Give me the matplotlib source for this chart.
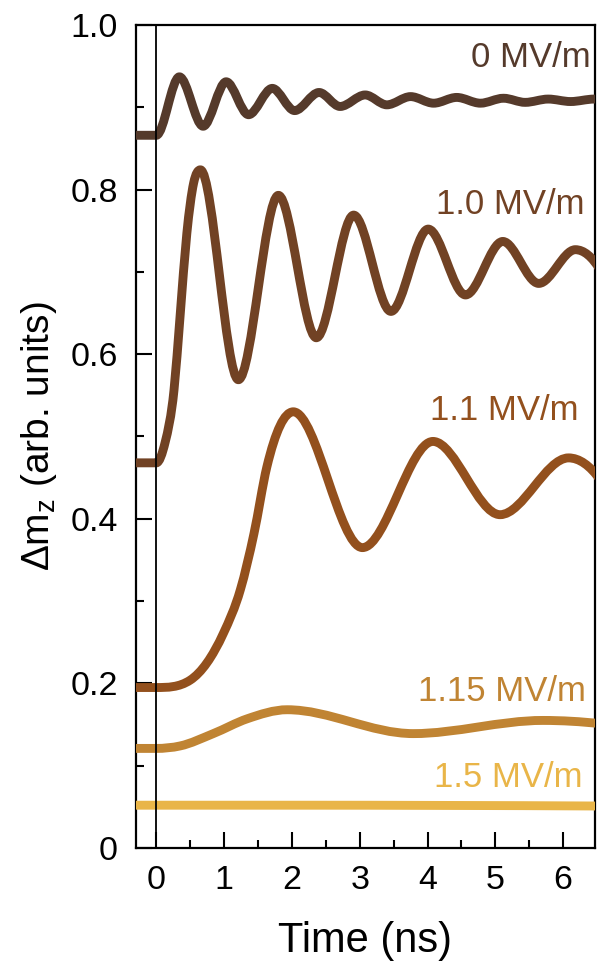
import numpy as np
import matplotlib
matplotlib.use("Agg")
import matplotlib.pyplot as plt
from matplotlib.path import Path
from matplotlib.patches import PathPatch
from matplotlib.ticker import MultipleLocator, FixedLocator, FixedFormatter

plt.rcParams['font.family'] = ['Liberation Sans', 'DejaVu Sans']
plt.rcParams['mathtext.fontset'] = 'custom'
plt.rcParams['mathtext.rm'] = 'Liberation Sans'
plt.rcParams['mathtext.it'] = 'Liberation Sans:italic'

# ---- data (time in ns, delta m_z in arb. units) ----
t_0 = [-0.3, 0.0, 0.34, 0.69, 1.03, 1.36, 1.71, 2.04, 2.40, 2.71, 3.08, 3.40,
       3.75, 4.09, 4.43, 4.78, 5.12, 5.44, 5.78, 6.11, 6.46, 6.55]
m_0 = [0.866, 0.866, 0.937, 0.877, 0.931, 0.891, 0.923, 0.896, 0.918, 0.901, 0.915, 0.903,
       0.913, 0.905, 0.912, 0.905, 0.911, 0.906, 0.910, 0.907, 0.910, 0.910]

t_10 = [-0.3, 0.0, 0.13, 0.26, 0.35, 0.45, 0.55, 0.65, 1.21,
        1.80, 2.36, 2.91, 3.46, 4.01, 4.56, 5.11, 5.64, 6.18, 6.55]
m_10 = [0.468, 0.468, 0.493, 0.556, 0.646, 0.747, 0.808, 0.824, 0.569,
        0.793, 0.620, 0.769, 0.652, 0.752, 0.672, 0.737, 0.686, 0.727, 0.702]

t_11 = [-0.3, 0.0, 0.50, 0.99, 1.24, 1.44, 1.63, 2.02,
        3.04, 4.08, 5.07, 6.08, 6.55]
m_11 = [0.195, 0.195, 0.204, 0.261, 0.314, 0.382, 0.463, 0.530,
        0.365, 0.494, 0.405, 0.474, 0.447]

t_115 = [-0.3, 0.0, 0.35, 0.84, 1.34, 1.93, 3.79, 5.70, 6.55]
m_115 = [0.121, 0.121, 0.124, 0.139, 0.157, 0.168, 0.139, 0.155, 0.151]

t_15 = [-0.3, 2.0, 6.55]
m_15 = [0.052, 0.052, 0.051]

labels = ["0 MV/m", "1.0 MV/m", "1.1 MV/m", "1.15 MV/m", "1.5 MV/m"]
colors = ["#553a2b", "#714224", "#93501d", "#c08433", "#e9b548"]
label_x = [6.41, 6.31, 6.22, 6.34, 6.28]
label_y = [0.961, 0.782, 0.531, 0.190, 0.086]

x_ticks = [0, 1, 2, 3, 4, 5, 6]
y_ticks = [0, 0.2, 0.4, 0.6, 0.8, 1.0]
y_ticklabels = ["0", "0.2", "0.4", "0.6", "0.8", "1.0"]

series = [(t_0, m_0), (t_10, m_10), (t_11, m_11), (t_115, m_115), (t_15, m_15)]


def tangents(x, y):
    x = np.asarray(x, float)
    y = np.asarray(y, float)
    h = np.diff(x)
    d = np.diff(y) / h
    n = len(y)
    m = np.zeros(n)
    for i in range(1, n - 1):
        if d[i - 1] * d[i] > 0:
            mi = (h[i] * d[i - 1] + h[i - 1] * d[i]) / (h[i - 1] + h[i])
            lim = 3 * min(abs(d[i - 1]), abs(d[i]))
            m[i] = np.sign(mi) * min(abs(mi), lim)
    if n > 2:
        m[0] = 0.0 if d[0] == 0 else 2 * d[0] - m[1]
        m[-1] = 2 * d[-1] - m[-2]
    else:
        m[:] = d[0]
    return m


def smooth_path(x, y):
    """Path through the read points, drawn as cubic Bezier segments."""
    m = tangents(x, y)
    verts = [(x[0], y[0])]
    codes = [Path.MOVETO]
    for i in range(len(x) - 1):
        h = x[i + 1] - x[i]
        verts += [(x[i] + h / 3, y[i] + m[i] * h / 3),
                  (x[i + 1] - h / 3, y[i + 1] - m[i + 1] * h / 3),
                  (x[i + 1], y[i + 1])]
        codes += [Path.CURVE4] * 3
    return Path(verts, codes)


fig = plt.figure(figsize=(5.97, 9.65), dpi=100)
ax = fig.add_axes([136 / 597, (965 - 848) / 965, (595 - 136) / 597, (848 - 25) / 965])

for (t, m), c in zip(series, colors):
    patch = PathPatch(smooth_path(t, m), facecolor="none", edgecolor=c, lw=6.4,
                      capstyle="butt", joinstyle="round", transform=ax.transData, zorder=3)
    ax.add_patch(patch)

ax.axvline(0, color="black", lw=1.3, zorder=4)

for lab, c, lx, ly in zip(labels, colors, label_x, label_y):
    ax.text(lx, ly, lab, color=c, fontsize=25, ha="right", va="center", zorder=5)

ax.set_xlim(-0.3, 6.47)
ax.set_ylim(0, 1.0)

ax.xaxis.set_major_locator(FixedLocator(x_ticks))
ax.xaxis.set_minor_locator(MultipleLocator(0.5))
ax.yaxis.set_major_locator(FixedLocator(y_ticks))
ax.yaxis.set_major_formatter(FixedFormatter(y_ticklabels))
ax.yaxis.set_minor_locator(MultipleLocator(0.1))

ax.tick_params(which="major", direction="in", length=11.5, width=1.5, labelsize=24.5)
ax.tick_params(which="minor", direction="in", length=6, width=1.5)
ax.tick_params(axis="x", which="major", pad=12)
ax.tick_params(axis="y", which="major", pad=13)

for s in ax.spines.values():
    s.set_linewidth(1.6)

ax.set_xlabel("Time (ns)", fontsize=30, labelpad=18)
ax.set_ylabel(r"Δm$_\mathregular{z}$ (arb. units)", fontsize=28, labelpad=8)

fig.savefig("out.png", dpi=100)
